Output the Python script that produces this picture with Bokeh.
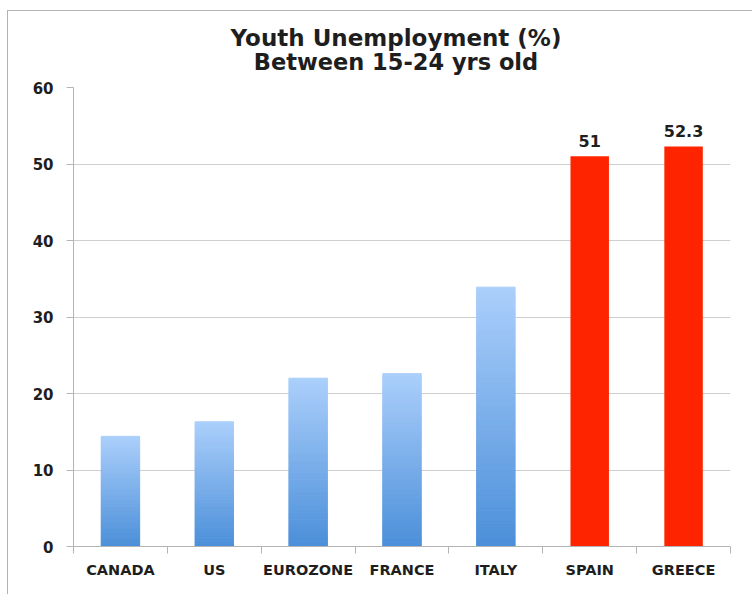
from bokeh.plotting import figure
from bokeh.models import (ColumnDataSource, FixedTicker, Range1d, LabelSet, Div)
from bokeh.layouts import column
from bokeh.core.properties import value
from bokeh.embed import file_html
from bokeh.resources import INLINE

# ---- data ----
title_lines = ["Youth Unemployment (%)", "Between 15-24 yrs old"]
categories = ["CANADA", "US", "EUROZONE", "FRANCE", "ITALY", "SPAIN", "GREECE"]
values = [14.4, 16.3, 22.0, 22.6, 33.9, 51.0, 52.3]
highlight = [False, False, False, False, False, True, True]
value_labels = ["", "", "", "", "", "51", "52.3"]
y_ticks = [0, 10, 20, 30, 40, 50, 60]

FONT = "DejaVu Sans"
TXT = "#1e1e1e"

W = 744
TITLE_H = 64
H = 583 - TITLE_H

title_html = (
    f'<div style="width:712px;margin-left:32px;padding-top:15px;text-align:center;'
    f'font-family:\'{FONT}\';font-weight:bold;color:{TXT};">'
    f'<div style="font-size:23px;line-height:24px;white-space:nowrap;">{title_lines[0]}</div>'
    f'<div style="font-size:22.5px;line-height:24px;white-space:nowrap;">{title_lines[1]}</div>'
    '</div>'
)
title_div = Div(text=title_html, width=W, height=TITLE_H, margin=(0, 0, 0, 0))

p = figure(width=W, height=H, x_range=Range1d(0, len(categories)), y_range=Range1d(0, 60),
           output_backend="svg", toolbar_location=None, margin=(0, 0, 0, 0),
           min_border_left=65, min_border_right=22, min_border_top=12, min_border_bottom=48)
p.outline_line_color = None
p.background_fill_color = "white"
p.border_fill_color = "white"

# ---- bars ----
def lerp(c1, c2, t):
    return "#%02x%02x%02x" % tuple(int(round(a + (b - a) * t)) for a, b in zip(c1, c2))

top_c = (0xab, 0xcf, 0xfb)
bot_c = (0x4b, 0x8f, 0xd9)
N = 80
xs, bottoms, tops, cols = [], [], [], []
rx, rtop = [], []
for i, (v, hl) in enumerate(zip(values, highlight)):
    if hl:
        rx.append(i + 0.5)
        rtop.append(v)
        continue
    for k in range(N):
        xs.append(i + 0.5)
        bottoms.append(v * k / N)
        tops.append(v * (k + 1) / N)
        cols.append(lerp(bot_c, top_c, (k + 0.5) / N))

p.vbar(x="x", bottom="b", top="t", width=0.41, fill_color="c", line_color="c", line_width=1,
       source=ColumnDataSource(dict(x=xs, b=bottoms, t=tops, c=cols)))
red_src = ColumnDataSource(dict(x=rx, top=rtop,
                                lab=[l for l, h in zip(value_labels, highlight) if h]))
p.vbar(x="x", top="top", width=0.41, fill_color="#ff2400", line_color=None, source=red_src)
p.add_layout(LabelSet(x="x", y="top", text="lab", source=red_src, y_offset=9,
                      text_align="center", text_baseline="bottom", text_font=value(FONT),
                      text_font_size=value("16px"), text_font_style=value("bold"),
                      text_color=value(TXT)))

# ---- axes ----
xa = p.xaxis[0]
xa.ticker = FixedTicker(ticks=[i + 0.5 for i in range(len(categories))],
                        minor_ticks=list(range(len(categories) + 1)))
xa.major_label_overrides = {i + 0.5: c for i, c in enumerate(categories)}
xa.major_tick_out = 0
xa.major_tick_in = 0
xa.minor_tick_out = 7
xa.minor_tick_in = 0
xa.minor_tick_line_color = "#b4b4b4"
xa.axis_line_color = "#b4b4b4"
xa.major_label_standoff = 8
xa.major_label_text_font = FONT
xa.major_label_text_font_size = "14.5px"
xa.major_label_text_font_style = "bold"
xa.major_label_text_color = TXT

ya = p.yaxis[0]
ya.ticker = FixedTicker(ticks=y_ticks, minor_ticks=[])
ya.major_tick_out = 7
ya.major_tick_in = 0
ya.major_tick_line_color = "#b4b4b4"
ya.axis_line_color = "#b4b4b4"
ya.major_label_standoff = 13
ya.major_label_text_font = FONT
ya.major_label_text_font_size = "15px"
ya.major_label_text_font_style = "bold"
ya.major_label_text_color = TXT

p.xgrid.grid_line_color = None
p.ygrid.grid_line_color = "#cfcfcf"
p.ygrid.grid_line_width = 1.2

layout = column(title_div, p, spacing=0)
layout.styles = {"margin-left": "7px", "margin-top": "10px", "background-color": "white",
                 "border-left": "1px solid #b4b4b4", "border-top": "1px solid #b4b4b4"}

open("out.html", "w").write(file_html(layout, INLINE))
